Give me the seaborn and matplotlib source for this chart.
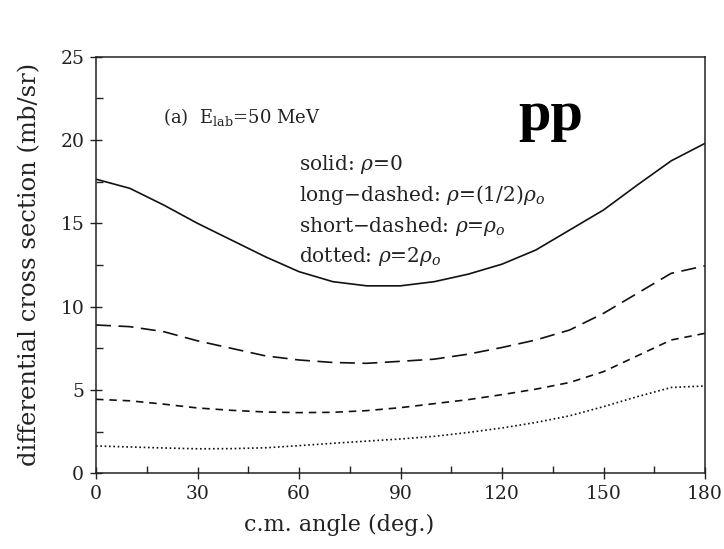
import numpy as np
import pandas as pd
import matplotlib
matplotlib.use("Agg")
import matplotlib.pyplot as plt
from matplotlib.ticker import MultipleLocator
import seaborn as sns

angles = [0, 10, 20, 30, 40, 50, 60, 70, 80, 90, 100, 110, 120, 130, 140, 150, 160, 170, 180]
solid = [17.65, 17.1, 16.1, 15.0, 14.0, 13.0, 12.1, 11.5, 11.25, 11.25, 11.5, 11.95, 12.55, 13.4, 14.6, 15.8, 17.3, 18.75, 19.8]
long_dashed = [8.9, 8.8, 8.5, 7.95, 7.5, 7.05, 6.8, 6.65, 6.6, 6.72, 6.85, 7.15, 7.55, 8.0, 8.6, 9.6, 10.8, 12.0, 12.45]
short_dashed = [4.44, 4.35, 4.15, 3.92, 3.78, 3.68, 3.64, 3.66, 3.76, 3.94, 4.18, 4.42, 4.72, 5.05, 5.45, 6.1, 7.05, 8.0, 8.4]
dotted = [1.64, 1.58, 1.52, 1.47, 1.48, 1.53, 1.66, 1.8, 1.93, 2.06, 2.22, 2.45, 2.72, 3.05, 3.45, 4.0, 4.6, 5.15, 5.24]

x_ticks = [0, 30, 60, 90, 120, 150, 180]
y_ticks = [0, 5, 10, 15, 20, 25]

series_names = ["solid", "long-dashed", "short-dashed", "dotted"]
series_values = [solid, long_dashed, short_dashed, dotted]

df = pd.DataFrame({
    "angle": np.tile(angles, len(series_names)),
    "xs": np.concatenate(series_values),
    "curve": np.repeat(series_names, len(angles)),
})

sns.set_theme(style="ticks")
plt.rcParams["font.family"] = ["DejaVu Serif"]
plt.rcParams["mathtext.fontset"] = "dejavuserif"

fig = plt.figure(figsize=(7.24, 5.49), dpi=100)
ax = fig.add_axes([96 / 724, 1 - 473.3 / 549, (705 - 96) / 724, (473.3 - 56.7) / 549])

dash_styles = {
    "solid": "",
    "long-dashed": (9, 4.5),
    "short-dashed": (4.5, 3.5),
    "dotted": (1, 1.6),
}
sns.lineplot(data=df, x="angle", y="xs", style="curve", dashes=dash_styles,
             color="#111111", linewidth=1.2, legend=False, ax=ax, sort=False)

ax.set_xlim(0, 180)
ax.set_ylim(0, 25)
ax.set_xticks(x_ticks)
ax.set_yticks(y_ticks)
ax.xaxis.set_minor_locator(MultipleLocator(15))
ax.yaxis.set_minor_locator(MultipleLocator(2.5))
ax.tick_params(which="major", direction="inout", length=9, width=1.0, colors="#222222",
               labelsize=13.5, pad=4)
ax.tick_params(which="minor", direction="in", length=5, width=1.0, colors="#222222")
for s in ax.spines.values():
    s.set_linewidth(1.1)
    s.set_color("#222222")
for lab in ax.get_xticklabels() + ax.get_yticklabels():
    lab.set_color("#222222")

ax.set_xlabel("c.m. angle (deg.)", fontsize=16, color="#222222")
ax.set_ylabel("differential cross section (mb/sr)", fontsize=17.5, color="#222222")
ax.xaxis.set_label_coords(0.399, -0.098)
ax.yaxis.set_label_coords(-0.09, 0.502)

ax.text(0.11, 0.841, r"(a)  E$_{\mathrm{lab}}$=50 MeV", transform=ax.transAxes,
        fontsize=13, color="#222222", va="baseline")
ax.text(0.693, 0.824, "pp", transform=ax.transAxes, fontsize=42, fontweight="bold",
        family="Liberation Serif", color="black", va="baseline")

labels = [r"solid: $\rho$=0",
          r"long$-$dashed: $\rho$=(1/2)$\rho_o$",
          r"short$-$dashed: $\rho$=$\rho_o$",
          r"dotted: $\rho$=2$\rho_o$"]
for i, t in enumerate(labels):
    ax.text(0.334, 0.728 - i * 0.0739, t, transform=ax.transAxes, fontsize=14.5,
            color="#222222", va="baseline")

fig.savefig("out.png", dpi=100)
